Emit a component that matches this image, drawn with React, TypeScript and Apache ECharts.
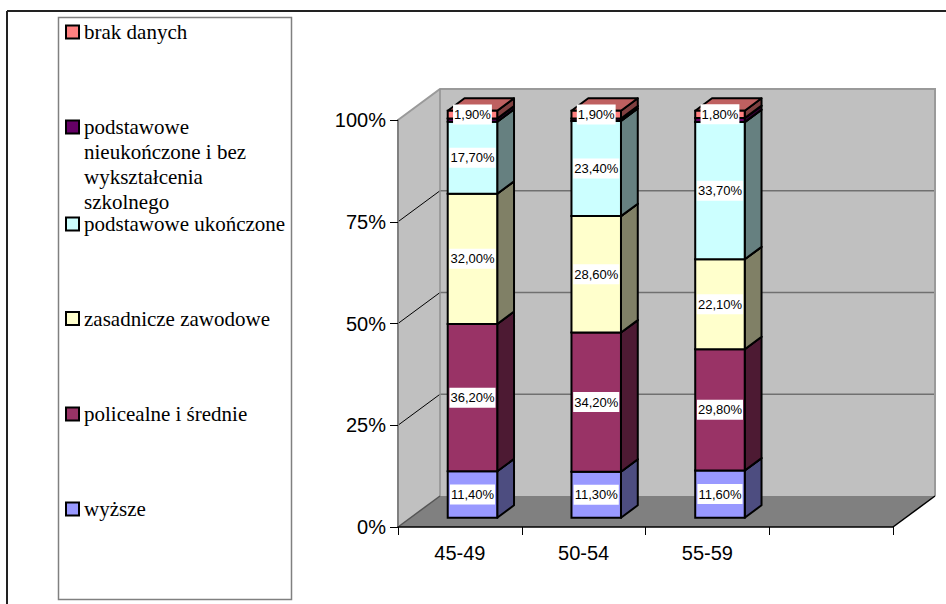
import React, { useEffect, useRef } from 'react';
import * as echarts from 'echarts';

// ---- data ----
const categories = ['45-49', '50-54', '55-59', ''];
const seriesNames = [
  'wyższe',
  'policealne i średnie',
  'zasadnicze zawodowe',
  'podstawowe ukończone',
  'podstawowe nieukończone i bez wykształcenia szkolnego',
  'brak danych',
];
const wyzsze = [11.4, 11.3, 11.6];
const policealne = [36.2, 34.2, 29.8];
const zasadnicze = [32.0, 28.6, 22.1];
const ukonczone = [17.7, 23.4, 33.7];
const nieukonczone = [0.8, 0.6, 1.0];
const brakDanych = [1.9, 1.9, 1.8];
const yTicks = [0, 25, 50, 75, 100];

// ---- styles ----
const frontColors = ['#9999FF', '#993366', '#FFFFCC', '#CCFFFF', '#660066', '#FF8080'];
const sideColors = ['#4D4D80', '#4D1A33', '#808066', '#668080', '#330033', '#804040'];
const topColors = ['#7373BF', '#73264D', '#BFBF99', '#99BFBF', '#4D004D', '#BF6060'];
// labels of the tiny "nieukończone" slices are hidden behind the neighbouring label in the original
const showLabel = [true, true, true, true, false, true];
const legendLabels: Record<string, string> = {
  'podstawowe nieukończone i bez wykształcenia szkolnego':
    '\n\n\npodstawowe\nnieukończone i bez\nwykształcenia\nszkolnego',
};
const legendOrder = [5, 4, 3, 2, 1, 0];
const legendCenters = [32, 127, 224, 318.5, 414, 509];

const DX = 42;
const DY = -31;
const D1 = 0.3;
const D2 = 0.7;
const BAR_FRAC = 0.4;
const SANS = 'Liberation Sans';
const SERIF = 'Liberation Serif';

const fmt = (v: number) => v.toFixed(2).replace('.', ',') + '%';

export default function App() {
  const ref = useRef<HTMLDivElement>(null);
  useEffect(() => {
    if (!ref.current) return;
    const chart = echarts.init(ref.current, undefined, { renderer: 'svg' });
    const allValues = [wyzsze, policealne, zasadnicze, ukonczone, nieukonczone, brakDanych];

    // stacked table built from the arrays
    const cumulative = [0, 0, 0];
    const stackedData = allValues.map((vals) =>
      vals.map((v, i) => {
        const s = cumulative[i];
        cumulative[i] = s + v;
        return [i, s, s + v, v];
      })
    );

    const makeBar = (k: number) => (params: any, api: any) => {
      const c = api.value(0);
      const s = api.value(1);
      const e = api.value(2);
      const v = api.value(3);
      const base = api.coord([c, s]);
      const top = api.coord([c, e]);
      const band = api.size([1, 0])[0];
      const bw = band * BAR_FRAC;
      const cx = base[0] + DX * D1;
      const yb = base[1] + DY * D1;
      const yt = top[1] + DY * D1;
      const xl = cx - bw / 2;
      const xr = cx + bw / 2;
      const bdx = DX * (D2 - D1);
      const bdy = DY * (D2 - D1);
      const lw = 2;
      const children: any[] = [
        {
          type: 'polygon',
          shape: { points: [[xr, yt], [xr + bdx, yt + bdy], [xr + bdx, yb + bdy], [xr, yb]] },
          style: { fill: sideColors[k], stroke: '#000', lineWidth: lw, lineJoin: 'round' },
        },
        {
          type: 'polygon',
          shape: { points: [[xl, yt], [xl + bdx, yt + bdy], [xr + bdx, yt + bdy], [xr, yt]] },
          style: { fill: topColors[k], stroke: '#000', lineWidth: lw, lineJoin: 'round' },
        },
        {
          type: 'rect',
          shape: { x: xl, y: yt, width: bw, height: yb - yt },
          style: { fill: frontColors[k], stroke: '#000', lineWidth: lw },
        },
      ];
      if (showLabel[k]) {
        children.push({
          type: 'text',
          x: cx,
          y: (yt + yb) / 2,
          style: {
            text: fmt(v),
            fill: '#000',
            fontSize: 13,
            fontFamily: SANS,
            align: 'center',
            verticalAlign: 'middle',
            backgroundColor: '#fff',
            padding: [4, 1, 3, 1],
          },
        });
      }
      return { type: 'group', children };
    };

    const wallsRender = (params: any, api: any) => {
      const cs = params.coordSys;
      const x0 = cs.x;
      const x1 = cs.x + cs.width;
      const y0 = api.coord([0, yTicks[0]])[1];
      const y100 = api.coord([0, yTicks[yTicks.length - 1]])[1];
      const children: any[] = [
        {
          type: 'rect',
          shape: { x: x0 + DX, y: y100 + DY, width: x1 - x0, height: y0 - y100 },
          style: { fill: '#C0C0C0' },
        },
        {
          type: 'polygon',
          shape: { points: [[x0, y100], [x0 + DX, y100 + DY], [x0 + DX, y0 + DY], [x0, y0]] },
          style: { fill: '#C0C0C0' },
        },
        {
          type: 'polygon',
          shape: { points: [[x0, y0], [x0 + DX, y0 + DY], [x1 + DX, y0 + DY], [x1, y0]] },
          style: { fill: '#808080' },
        },
      ];
      yTicks.slice(1, -1).forEach((t) => {
        const y = api.coord([0, t])[1];
        children.push({
          type: 'line',
          shape: { x1: x0 + DX, y1: y + DY, x2: x1 + DX, y2: y + DY },
          style: { stroke: '#707070', lineWidth: 1.5 },
        });
        children.push({
          type: 'line',
          shape: { x1: x0, y1: y, x2: x0 + DX, y2: y + DY },
          style: { stroke: '#000', lineWidth: 1 },
        });
      });
      children.push(
        {
          type: 'polyline',
          shape: { points: [[x0, y100], [x0 + DX, y100 + DY], [x1 + DX, y100 + DY], [x1 + DX, y0 + DY]] },
          style: { stroke: '#9A9A9A', lineWidth: 2, fill: 'none' },
        },
        {
          type: 'line',
          shape: { x1: x0 + DX, y1: y100 + DY, x2: x0 + DX, y2: y0 + DY },
          style: { stroke: '#909090', lineWidth: 1.5 },
        },
        {
          type: 'line',
          shape: { x1: x1, y1: y0, x2: x1 + DX, y2: y0 + DY },
          style: { stroke: '#000', lineWidth: 1.5 },
        },
        {
          type: 'line',
          shape: { x1: x0, y1: y0, x2: x0 + DX, y2: y0 + DY },
          style: { stroke: '#555', lineWidth: 1.5 },
        }
      );
      return { type: 'group', children };
    };

    const series: any[] = [
      {
        type: 'custom',
        name: '__walls',
        renderItem: wallsRender,
        data: [[0, 0]],
        encode: { x: 0, y: 1 },
        clip: false,
        silent: true,
        z: 1,
      },
      ...seriesNames.map((name, k) => ({
        type: 'custom',
        name,
        renderItem: makeBar(k),
        data: stackedData[k],
        encode: { x: 0, y: [1, 2] },
        itemStyle: { color: frontColors[k] },
        clip: false,
        silent: true,
        z: 2,
      })),
    ];

    const legends = legendOrder.map((k, i) => {
      const name = seriesNames[k];
      const label = legendLabels[name] ?? name;
      const lines = label.split('\n').length;
      const h = Math.max(13, lines * 25);
      return {
        data: [name],
        left: 65,
        top: legendCenters[i] - h / 2,
        orient: 'vertical',
        padding: 0,
        itemWidth: 13,
        itemHeight: 13,
        icon: 'rect',
        selectedMode: false,
        itemStyle: { borderColor: '#000', borderWidth: 2 },
        textStyle: { fontFamily: SERIF, fontSize: 21, lineHeight: 25, color: '#000' },
        formatter: (n: string) => legendLabels[n] ?? n,
      };
    });

    chart.setOption({
      animation: false,
      backgroundColor: '#fff',
      grid: { left: 398, top: 120, width: 495, height: 407 },
      xAxis: {
        type: 'category',
        data: categories,
        z: 5,
        axisLine: { show: true, lineStyle: { color: '#000', width: 1.5 } },
        axisTick: { show: true, length: 8, lineStyle: { color: '#000', width: 1 } },
        axisLabel: { fontSize: 20, fontFamily: SANS, color: '#000', margin: 16 },
        splitLine: { show: false },
      },
      yAxis: {
        type: 'value',
        min: 0,
        max: 100,
        interval: 25,
        z: 5,
        axisLine: { show: true, lineStyle: { color: '#808080', width: 2 } },
        axisTick: { show: true, length: 8, lineStyle: { color: '#000', width: 1 } },
        axisLabel: { formatter: '{value}%', fontSize: 20, fontFamily: SANS, color: '#000', margin: 12 },
        splitLine: { show: false },
      },
      legend: legends,
      graphic: [
        {
          type: 'line',
          shape: { x1: 7, y1: 11, x2: 946, y2: 11 },
          style: { stroke: '#222', lineWidth: 2 },
          z: 0,
        },
        {
          type: 'line',
          shape: { x1: 7, y1: 11, x2: 7, y2: 604 },
          style: { stroke: '#222', lineWidth: 2 },
          z: 0,
        },
        {
          type: 'rect',
          shape: { x: 58.5, y: 17.5, width: 233, height: 582 },
          style: { fill: '#fff', stroke: '#808080', lineWidth: 1.5 },
          z: 0,
        },
      ],
      series,
    });
    return () => chart.dispose();
  }, []);
  return (
    <div
      ref={ref}
      style={{ position: 'fixed', left: 0, top: 0, width: 946, height: 604 }}
    />
  );
}
